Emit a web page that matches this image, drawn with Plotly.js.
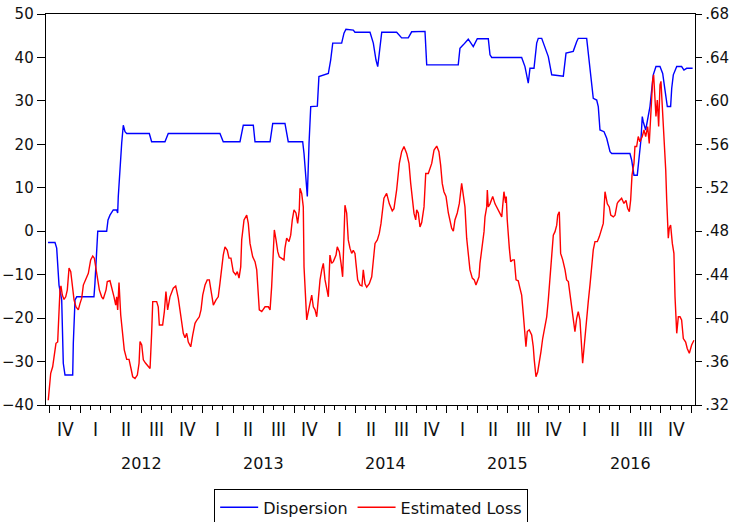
<!DOCTYPE html>
<html><head><meta charset="utf-8">
<script src="https://cdn.plot.ly/plotly-3.0.1.min.js"></script>
<style>html,body{margin:0;padding:0;background:#fff;}#chart{width:735px;height:522px;}</style>
</head><body><div id="chart"></div>
<script>
// Dispersion (left axis), time in decimal years
const dispT = [2011.736,2011.793,2011.807,2011.818,2011.826,2011.848,2011.861,2011.875,2011.938,2011.943,
2011.957,2011.971,2012.112,2012.120,2012.134,2012.143,2012.216,2012.227,2012.243,2012.270,
2012.298,2012.306,2012.311,2012.325,2012.339,2012.352,2012.366,2012.380,2012.565,2012.584,
2012.693,2012.720,2013.143,2013.170,2013.307,2013.334,2013.416,2013.430,2013.553,2013.575,
2013.675,2013.702,2013.820,2013.831,2013.845,2013.858,2013.872,2013.886,2013.940,2013.953,
2014.030,2014.049,2014.066,2014.139,2014.158,2014.174,2014.234,2014.248,2014.371,2014.398,
2014.420,2014.434,2014.447,2014.467,2014.589,2014.630,2014.684,2014.712,2014.821,2014.835,
2015.093,2015.107,2015.134,2015.175,2015.216,2015.249,2015.339,2015.353,2015.367,2015.612,
2015.639,2015.666,2015.680,2015.713,2015.735,2015.748,2015.776,2015.803,2015.830,2015.858,
2015.953,2015.975,2016.034,2016.062,2016.075,2016.144,2016.157,2016.177,2016.198,2016.226,
2016.239,2016.253,2016.286,2016.308,2016.335,2016.349,2016.498,2016.512,2016.531,2016.558,
2016.575,2016.588,2016.599,2016.607,2016.627,2016.648,2016.662,2016.689,2016.711,2016.744,
2016.766,2016.785,2016.804,2016.831,2016.840,2016.853,2016.881,2016.921,2016.940,2016.962,
2017.011];
const dispV = [-2.6,-2.6,-3.9,-8.2,-12.4,-15.8,-30.4,-33.1,-33.1,-25.8,
-15.8,-15.1,-15.1,-12,-2.8,0,0,2.6,3.7,4.9,
4.9,4.2,8,15.6,20.3,24.4,22.9,22.5,22.5,20.6,
20.6,22.5,22.5,20.6,20.6,24.4,24.4,20.6,20.6,24.8,
24.8,20.6,20.6,17.9,13.3,8,20.2,28.7,28.8,35.6,
36.3,39.4,43.3,43.3,45.6,46.5,46.3,45.8,45.8,43.3,
39.4,37.9,41,45.8,45.8,44.5,44.5,45.9,46.0,38.3,
38.3,42.1,42.9,44.2,42.5,44.3,44.3,40.6,40,40,
37.9,34.1,37.5,37.5,43.3,44.4,44.4,42.5,40.2,36,
35.7,41,41.4,43.6,44.4,44.4,41,35.7,30.6,30.2,
28.7,23.3,22.9,21.4,18.3,17.9,17.9,16.4,12.9,12.9,
17.2,21,26.4,25.2,23.3,26.4,28.7,36,37.9,37.9,
36.3,32.5,28.7,28.7,32.9,36,37.9,37.9,37.1,37.5,
37.5];

// Estimated Loss (right axis)
const lossT = [2011.738,2011.747,2011.758,2011.774,2011.785,2011.801,2011.815,2011.826,2011.834,2011.842,
2011.853,2011.867,2011.881,2011.894,2011.908,2011.922,2011.935,2011.949,2011.965,2011.984,
2011.998,2012.012,2012.025,2012.047,2012.066,2012.085,2012.102,2012.115,2012.129,2012.139,
2012.156,2012.175,2012.188,2012.211,2012.221,2012.243,2012.262,2012.276,2012.290,2012.298,
2012.306,2012.317,2012.331,2012.347,2012.360,2012.380,2012.399,2012.415,2012.429,2012.448,
2012.467,2012.481,2012.489,2012.503,2012.516,2012.535,2012.557,2012.571,2012.584,2012.593,
2012.625,2012.638,2012.647,2012.674,2012.688,2012.701,2012.715,2012.734,2012.761,2012.781,
2012.802,2012.822,2012.843,2012.857,2012.871,2012.884,2012.904,2012.920,2012.939,2012.953,
2012.974,2012.988,2013.002,2013.021,2013.039,2013.056,2013.075,2013.089,2013.111,2013.129,
2013.143,2013.157,2013.170,2013.184,2013.203,2013.217,2013.233,2013.252,2013.272,2013.285,
2013.299,2013.313,2013.321,2013.340,2013.362,2013.375,2013.389,2013.411,2013.430,2013.444,
2013.457,2013.465,2013.485,2013.512,2013.539,2013.553,2013.566,2013.580,2013.588,2013.602,
2013.616,2013.629,2013.648,2013.667,2013.675,2013.689,2013.708,2013.722,2013.735,2013.749,
2013.765,2013.779,2013.792,2013.798,2013.812,2013.825,2013.831,2013.845,2013.853,2013.866,
2013.880,2013.894,2013.907,2013.921,2013.935,2013.948,2013.962,2013.976,2013.989,2014.003,
2014.017,2014.030,2014.043,2014.057,2014.071,2014.093,2014.103,2014.120,2014.134,2014.147,
2014.158,2014.166,2014.180,2014.193,2014.207,2014.221,2014.234,2014.248,2014.256,2014.270,
2014.289,2014.305,2014.316,2014.330,2014.344,2014.365,2014.385,2014.398,2014.412,2014.431,
2014.447,2014.461,2014.475,2014.485,2014.507,2014.529,2014.553,2014.567,2014.589,2014.611,
2014.630,2014.649,2014.671,2014.690,2014.704,2014.717,2014.731,2014.745,2014.753,2014.766,
2014.780,2014.794,2014.813,2014.827,2014.848,2014.876,2014.895,2014.917,2014.935,2014.949,
2014.962,2014.976,2014.993,2015.012,2015.025,2015.039,2015.053,2015.066,2015.085,2015.102,
2015.121,2015.134,2015.148,2015.162,2015.175,2015.189,2015.208,2015.224,2015.238,2015.263,
2015.271,2015.285,2015.304,2015.312,2015.326,2015.331,2015.339,2015.353,2015.375,2015.394,
2015.408,2015.429,2015.449,2015.467,2015.481,2015.486,2015.494,2015.511,2015.522,2015.539,
2015.552,2015.566,2015.584,2015.598,2015.612,2015.625,2015.639,2015.647,2015.658,2015.674,
2015.694,2015.707,2015.715,2015.729,2015.743,2015.756,2015.770,2015.784,2015.797,2015.817,
2015.830,2015.844,2015.858,2015.871,2015.885,2015.899,2015.907,2015.920,2015.931,2015.948,
2015.967,2015.980,2015.994,2016.007,2016.021,2016.034,2016.048,2016.062,2016.075,2016.089,
2016.103,2016.111,2016.122,2016.138,2016.157,2016.171,2016.185,2016.198,2016.212,2016.231,
2016.247,2016.267,2016.280,2016.294,2016.313,2016.329,2016.341,2016.362,2016.376,2016.394,
2016.403,2016.430,2016.449,2016.466,2016.479,2016.493,2016.504,2016.515,2016.531,2016.539,
2016.553,2016.566,2016.580,2016.599,2016.613,2016.627,2016.643,2016.656,2016.668,2016.676,
2016.684,2016.692,2016.703,2016.711,2016.722,2016.733,2016.744,2016.752,2016.760,2016.771,
2016.779,2016.791,2016.799,2016.804,2016.812,2016.820,2016.831,2016.845,2016.858,2016.867,
2016.881,2016.894,2016.908,2016.921,2016.935,2016.954,2016.967,2016.984,2017.003,2017.022];
const lossV = [.3244,.3336,.3492,.3552,.366,.3768,.378,.4044,.426,.4296,
.4212,.4172,.4196,.426,.446,.4428,.4288,.4168,.4104,.4076,
.4136,.4184,.4304,.4368,.4412,.4536,.4572,.4552,.446,.4368,
.426,.4196,.4176,.426,.4336,.4344,.4268,.4196,.412,.4196,
.4076,.4328,.4028,.386,.3708,.362,.362,.3536,.346,.3444,
.3476,.3584,.3784,.3752,.3616,.3584,.3552,.3536,.386,.4152,
.4152,.4104,.3936,.3936,.406,.4244,.4076,.4196,.4276,.4296,
.4184,.4044,.386,.382,.386,.378,.3736,.3844,.3952,.398,
.4012,.4076,.4212,.4304,.4352,.4352,.4228,.412,.4168,.4196,
.432,.4472,.458,.4656,.4624,.4552,.4552,.4428,.44,.4428,
.4368,.4472,.472,.4904,.4948,.4872,.4688,.4564,.452,.4444,
.426,.4076,.406,.4104,.4104,.4076,.4288,.4612,.4812,.472,
.4612,.4564,.4552,.4536,.4644,.4736,.4704,.4764,.4904,.4996,
.4968,.4872,.4996,.5196,.5148,.5024,.4472,.4168,.3984,.406,
.4136,.4212,.4104,.4076,.4012,.4212,.4352,.4444,.4504,.4352,
.4276,.4196,.458,.4504,.452,.458,.4656,.4612,.4504,.438,
.4748,.504,.4968,.472,.4644,.4596,.4624,.4596,.4504,.4352,
.4304,.4296,.4444,.4316,.4284,.4316,.438,.4536,.4688,.472,
.478,.4872,.5024,.5104,.5148,.5052,.4988,.5008,.518,.5424,
.5532,.558,.5516,.5424,.524,.5088,.4964,.4904,.4996,.4968,
.484,.488,.5024,.5332,.5332,.5424,.5548,.5584,.5532,.5408,
.524,.5164,.512,.4968,.4904,.4828,.48,.4904,.4968,.5056,
.524,.5148,.5024,.4736,.4596,.4444,.4368,.4352,.4304,.438,
.4504,.4628,.4796,.4932,.5024,.518,.5024,.5052,.512,.5052,
.5024,.4976,.4932,.5164,.506,.512,.4904,.4644,.452,.4536,
.4536,.4352,.4344,.4276,.4212,.4044,.3828,.3736,.3876,.3892,
.3844,.3736,.3616,.346,.3504,.3584,.3692,.3812,.3904,.4012,
.4168,.438,.4628,.4764,.4796,.4856,.4948,.498,.4596,.4536,
.4444,.4352,.4336,.4228,.4104,.4012,.3876,.3996,.406,.3984,
.3768,.3584,.372,.3952,.4152,.4304,.4444,.4628,.4704,.4704,
.4748,.4828,.4872,.5164,.5052,.5024,.4948,.4932,.4948,.5056,
.5072,.5104,.5056,.5084,.5012,.498,.5088,.5316,.5424,.558,
.558,.5672,.5624,.5672,.5732,.5672,.5764,.5608,.5824,.6068,
.6192,.624,.5976,.5856,.6008,.5764,.6148,.618,.6008,.5792,
.564,.5364,.5088,.4932,.4736,.4828,.4856,.4688,.4596,.4196,
.386,.4012,.4012,.3984,.3812,.378,.372,.3676,.3752,.3796];

const quarterLabels = ['IV','I','II','III','IV','I','II','III','IV','I','II','III','IV','I','II','III','IV','I','II','III','IV'];
const firstQuarterStart = 2011.75;
const yearLabels = ['2012','2013','2014','2015','2016'];
const firstYear = 2012;
const leftTicks = [-40,-30,-20,-10,0,10,20,30,40,50];
const rightTicks = [0.32,0.36,0.40,0.44,0.48,0.52,0.56,0.60,0.64,0.68];
const rightTickText = ['.32','.36','.40','.44','.48','.52','.56','.60','.64','.68'];

const tickFont = {family:'DejaVu Sans, Verdana, sans-serif', size:15, color:'#111'};
const yearFont = {family:'DejaVu Sans, Verdana, sans-serif', size:16, color:'#111'};
const romanFont = {family:'Liberation Sans Narrow, DejaVu Sans Condensed, Arial Narrow, sans-serif', size:19, color:'#111'};

const annotations = [];
quarterLabels.forEach((q,i)=>{
  annotations.push({x: firstQuarterStart + 0.25*i + 0.125, y: -0.062, xref:'x', yref:'paper',
    text:q, showarrow:false, xanchor:'center', yanchor:'middle', font: romanFont});
});
yearLabels.forEach((yl,i)=>{
  annotations.push({x: firstYear + i + 0.5, y: -0.15, xref:'x', yref:'paper',
    text:yl, showarrow:false, xanchor:'center', yanchor:'middle', font: yearFont});
});

const traces = [
  {x: dispT, y: dispV, name:'Dispersion', type:'scatter', mode:'lines', line:{color:'#0000ff', width:1.4}, yaxis:'y'},
  {x: lossT, y: lossV, name:'Estimated Loss', type:'scatter', mode:'lines', line:{color:'#ff0000', width:1.4}, yaxis:'y2'}
];

const layout = {
  width:735, height:522,
  margin:{l:46, r:40, t:14, b:117, autoexpand:false},
  paper_bgcolor:'#fff', plot_bgcolor:'#fff',
  showlegend:true,
  hovermode:false,
  xaxis:{range:[2011.7195, 2017.0305], tickmode:'linear', tick0:2011.75, dtick:0.25,
    ticks:'outside', ticklen:7, tickwidth:1, tickcolor:'#000', showticklabels:false,
    showline:true, linecolor:'#000', linewidth:1.3, mirror:true, showgrid:false, zeroline:false,
    minor:{tickmode:'linear', tick0:2011.75, dtick:1/12, ticks:'outside', ticklen:4, tickwidth:1, tickcolor:'#000', showgrid:false}},
  yaxis:{range:[-40,50], tickmode:'array', tickvals:leftTicks, ticks:'outside', ticklen:8, tickwidth:1, tickcolor:'#000',
    showline:true, linecolor:'#000', linewidth:1.3, mirror:true, showgrid:false, zeroline:false, tickfont:tickFont},
  yaxis2:{range:[0.32,0.68], overlaying:'y', side:'right', tickmode:'array', tickvals:rightTicks, ticktext:rightTickText,
    ticks:'outside', ticklen:6, tickwidth:1, tickcolor:'#000', showline:true, linecolor:'#000', linewidth:1.3,
    showgrid:false, zeroline:false, tickfont:tickFont},
  legend:{orientation:'h', x:0.505, xref:'container', xanchor:'center', y:0.028, yref:'container', yanchor:'middle',
    bordercolor:'#000', borderwidth:1, bgcolor:'#fff', itemwidth:38,
    font:{family:'DejaVu Sans, Verdana, sans-serif', size:16, color:'#111'},
    traceorder:'normal'},
  annotations: annotations
};

Plotly.newPlot('chart', traces, layout, {staticPlot:true, displayModeBar:false});
</script>
</body></html>
